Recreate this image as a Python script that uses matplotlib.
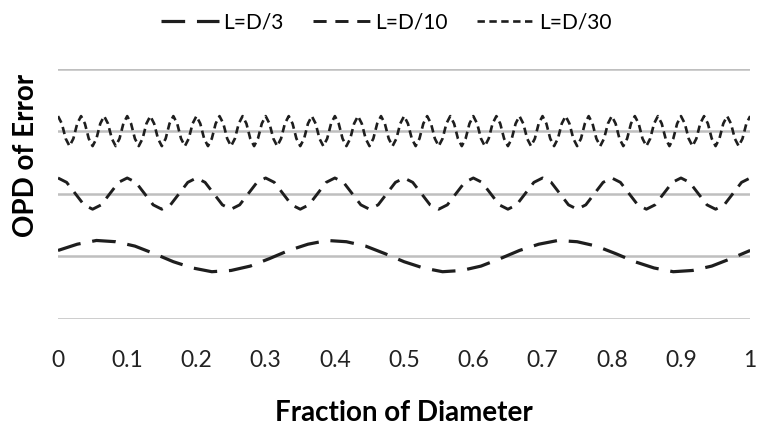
import numpy as np
import matplotlib.pyplot as plt

# OPD of error along the diameter
# L=D/3 : 12 samples per period, 3 periods
opd_d3 = [
    1.09, 1.19, 1.25, 1.23, 1.16, 1.04, 0.91, 0.81, 0.75, 0.77, 0.84, 0.96,
    1.09, 1.19, 1.25, 1.23, 1.16, 1.04, 0.91, 0.81, 0.75, 0.77, 0.84, 0.96,
    1.09, 1.19, 1.25, 1.23, 1.16, 1.04, 0.91, 0.81, 0.75, 0.77, 0.84, 0.96,
    1.09,
]
# L=D/10 : 8 samples per period, 10 periods
opd_d10 = [
    2.25, 2.18, 2.00, 1.82, 1.75, 1.82, 2.00, 2.18,
    2.25, 2.18, 2.00, 1.82, 1.75, 1.82, 2.00, 2.18,
    2.25, 2.18, 2.00, 1.82, 1.75, 1.82, 2.00, 2.18,
    2.25, 2.18, 2.00, 1.82, 1.75, 1.82, 2.00, 2.18,
    2.25, 2.18, 2.00, 1.82, 1.75, 1.82, 2.00, 2.18,
    2.25, 2.18, 2.00, 1.82, 1.75, 1.82, 2.00, 2.18,
    2.25, 2.18, 2.00, 1.82, 1.75, 1.82, 2.00, 2.18,
    2.25, 2.18, 2.00, 1.82, 1.75, 1.82, 2.00, 2.18,
    2.25, 2.18, 2.00, 1.82, 1.75, 1.82, 2.00, 2.18,
    2.25, 2.18, 2.00, 1.82, 1.75, 1.82, 2.00, 2.18,
    2.25,
]
# L=D/30 : 6 samples per period, 30 periods
opd_d30 = [
    3.24, 3.12, 2.88, 2.76, 2.88, 3.12,
    3.24, 3.12, 2.88, 2.76, 2.88, 3.12,
    3.24, 3.12, 2.88, 2.76, 2.88, 3.12,
    3.24, 3.12, 2.88, 2.76, 2.88, 3.12,
    3.24, 3.12, 2.88, 2.76, 2.88, 3.12,
    3.24, 3.12, 2.88, 2.76, 2.88, 3.12,
    3.24, 3.12, 2.88, 2.76, 2.88, 3.12,
    3.24, 3.12, 2.88, 2.76, 2.88, 3.12,
    3.24, 3.12, 2.88, 2.76, 2.88, 3.12,
    3.24, 3.12, 2.88, 2.76, 2.88, 3.12,
    3.24, 3.12, 2.88, 2.76, 2.88, 3.12,
    3.24, 3.12, 2.88, 2.76, 2.88, 3.12,
    3.24, 3.12, 2.88, 2.76, 2.88, 3.12,
    3.24, 3.12, 2.88, 2.76, 2.88, 3.12,
    3.24, 3.12, 2.88, 2.76, 2.88, 3.12,
    3.24, 3.12, 2.88, 2.76, 2.88, 3.12,
    3.24, 3.12, 2.88, 2.76, 2.88, 3.12,
    3.24, 3.12, 2.88, 2.76, 2.88, 3.12,
    3.24, 3.12, 2.88, 2.76, 2.88, 3.12,
    3.24, 3.12, 2.88, 2.76, 2.88, 3.12,
    3.24, 3.12, 2.88, 2.76, 2.88, 3.12,
    3.24, 3.12, 2.88, 2.76, 2.88, 3.12,
    3.24, 3.12, 2.88, 2.76, 2.88, 3.12,
    3.24, 3.12, 2.88, 2.76, 2.88, 3.12,
    3.24, 3.12, 2.88, 2.76, 2.88, 3.12,
    3.24, 3.12, 2.88, 2.76, 2.88, 3.12,
    3.24, 3.12, 2.88, 2.76, 2.88, 3.12,
    3.24, 3.12, 2.88, 2.76, 2.88, 3.12,
    3.24, 3.12, 2.88, 2.76, 2.88, 3.12,
    3.24, 3.12, 2.88, 2.76, 2.88, 3.12,
    3.24,
]
x_ticks = [0, 0.1, 0.2, 0.3, 0.4, 0.5, 0.6, 0.7, 0.8, 0.9, 1]
x_labels = ['0', '0.1', '0.2', '0.3', '0.4', '0.5', '0.6', '0.7', '0.8', '0.9', '1']

plt.rcParams['font.family'] = ['Lato', 'DejaVu Sans']

fig = plt.figure(figsize=(7.59, 4.31), dpi=100)
ax = fig.add_axes([0.0764, 0.2585, 0.912, 0.5800])

ax.plot(np.linspace(0, 1, len(opd_d3)), opd_d3, color='#1e1e1e', lw=2.3,
        dashes=(7.4, 3.7), label='L=D/3', zorder=3)
ax.plot(np.linspace(0, 1, len(opd_d10)), opd_d10, color='#1e1e1e', lw=2.1,
        dashes=(4.5, 3.0), label='L=D/10', zorder=3)
ax.plot(np.linspace(0, 1, len(opd_d30)), opd_d30, color='#1e1e1e', lw=1.9,
        dashes=(2.8, 1.7), label='L=D/30', zorder=3)

ax.set_xlim(0, 1)
ax.set_ylim(0, 4)
ax.set_yticks([0, 1, 2, 3, 4])
ax.set_yticklabels([])
ax.grid(axis='y', color='#bfbfbf', lw=1.8)
ax.set_axisbelow(True)
ax.set_xticks(x_ticks)
ax.set_xticklabels(x_labels, fontsize=16.5, color='#222222')
ax.tick_params(length=0, pad=22)
for s in ax.spines.values():
    s.set_visible(False)

ax.set_xlabel('Fraction of Diameter', fontsize=20, fontweight='bold')
ax.xaxis.set_label_coords(0.5, -0.32)
ax.set_ylabel('OPD of Error', fontsize=20, fontweight='bold')
ax.yaxis.label.set_va('center')
ax.yaxis.set_label_coords(-0.046, 0.656)

fig.legend(loc='center', bbox_to_anchor=(0.509, 0.947), ncol=3,
           frameon=False, fontsize=15, handlelength=2.8, columnspacing=1.4,
           handletextpad=0.2)

fig.savefig('out.png', dpi=100)
